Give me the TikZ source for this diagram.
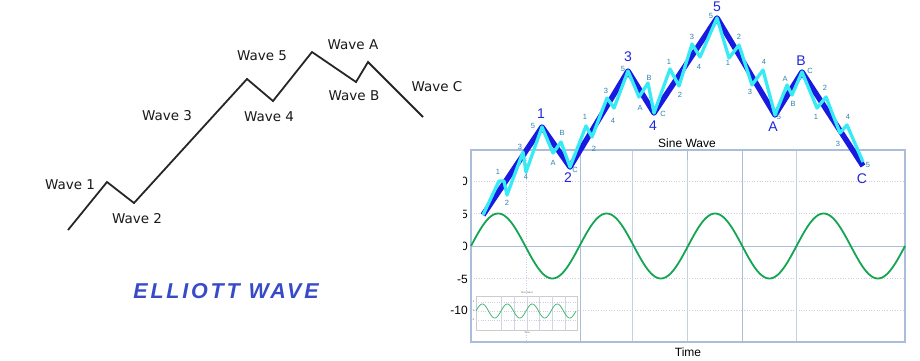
\documentclass[tikz,border=0pt]{standalone}
\usepackage{fontspec}
\setmainfont{DejaVu Sans}
\newfontfamily\arialfont{Liberation Sans}
\newfontfamily\titlefont[LetterSpace=13]{Liberation Sans}
\definecolor{mainblue}{RGB}{25,25,225}
\definecolor{subcyan}{RGB}{55,235,245}
\definecolor{bigblue}{RGB}{30,40,215}
\definecolor{smallteal}{RGB}{45,130,175}
\definecolor{titleblue}{RGB}{55,75,200}
\definecolor{sinegreen}{RGB}{20,165,80}
\definecolor{gridc}{RGB}{170,190,218}
\definecolor{gridd}{RGB}{215,200,225}
\begin{document}
\begin{tikzpicture}[x=1pt,y=-1pt,
  wavelbl/.style={font=\fontsize{13.5}{16}\selectfont, text=black!90, inner sep=0},
  leftline/.style={draw=black!85, line width=1.8pt},
  bigl/.style={font=\arialfont\fontsize{14}{16}\selectfont, text=bigblue, inner sep=0},
  smalll/.style={font=\arialfont\fontsize{7.5}{9}\selectfont, text=smallteal, inner sep=0},
  mainw/.style={draw=mainblue, line width=5.5pt, line join=round},
  subw/.style={draw=subcyan, line width=3.3pt, line join=round},
  axlbl/.style={font=\arialfont\fontsize{12}{14}\selectfont, inner sep=0, anchor=east},
  chartlbl/.style={font=\arialfont\fontsize{12}{14}\selectfont, inner sep=0},
  tinylbl/.style={font=\arialfont\fontsize{2.5}{3}\selectfont, text=black!60, inner sep=0},
  gridsolid/.style={draw=gridc, line width=0.8pt},
  griddot/.style={draw=gridd, line width=0.6pt, dotted},
  framest/.style={draw=gridc, line width=1.4pt}
]
\useasboundingbox (0,0) rectangle (920,360);

% ---------------- left diagram ----------------
\coordinate (p0) at (68,230);
\coordinate (p1) at (107,182);
\coordinate (p2) at (134,203);
\coordinate (p3) at (247,79);
\coordinate (p4) at (273,101);
\coordinate (p5) at (312,52);
\coordinate (pA) at (356,82);
\coordinate (pB) at (368,62);
\coordinate (pC) at (423,117);
\draw[leftline] (p0) -- (p1) -- (p2) -- (p3) -- (p4) -- (p5) -- (pA) -- (pB) -- (pC);

\node[wavelbl] (w1) at (70,185) {Wave 1};
\node[wavelbl] (w2) at (137,219) {Wave 2};
\node[wavelbl] (w3) at (167,116) {Wave 3};
\node[wavelbl] (w4) at (269,117) {Wave 4};
\node[wavelbl] (w5) at (262,56) {Wave 5};
\node[wavelbl] (wA) at (353,45) {Wave A};
\node[wavelbl] (wB) at (354,96) {Wave B};
\node[wavelbl] (wC) at (437,87) {Wave C};

\node[font=\titlefont\bfseries\itshape\fontsize{21.5}{24}\selectfont, text=titleblue, inner sep=0] (title) at (226,291) {ELLIOTT WAVE};

% ---------------- chart grid ----------------
\foreach \yy in {181,213,278,310} \draw[griddot] (471,\yy) -- (905,\yy);
\draw[griddot] (526,150) -- (526,342);
\foreach \xx in {632,687,796} \draw[gridsolid, draw=gridc!70] (\xx,150) -- (\xx,342);
\foreach \xx in {580,742} \draw[gridsolid] (\xx,150) -- (\xx,342);
\draw[gridsolid] (471,246) -- (905,246);
\draw[framest] (471,150) rectangle (905,342);
\draw[gridc] (687,150) -- (687,160);

\node[chartlbl] (sinetitle) at (687,143) {Sine Wave};
\node[chartlbl] (timelbl) at (688,352) {Time};

\begin{scope}
  \clip (463,165) rectangle (480,256);
  \node[axlbl] (y10) at (468,181) {10};
  \node[axlbl] (y5) at (468,214) {5};
  \node[axlbl] (y0) at (468,246) {0};
\end{scope}
\node[axlbl] (ym5) at (468,279) {-5};
\node[axlbl] (ym10) at (468,310) {-10};

% sine wave
\draw[sinegreen, line width=1.8pt] plot[domain=0:434, samples=240, smooth] ({471+\x},{246-32.5*sin(\x/108.5*360)});

% inset
\node[draw=black!20, fill=white, line width=0.4pt, minimum width=101pt, minimum height=34pt, inner sep=0] (inset) at (526.5,313) {};
\foreach \xx in {501,514,527,539,552,565} \draw[draw=gridc!60, line width=0.3pt] (\xx,296) -- (\xx,330);
\foreach \yy in {302,311,320} \draw[draw=gridd, line width=0.3pt, dotted] (476,\yy) -- (577,\yy);
\draw[sinegreen!80, line width=0.8pt] plot[domain=0:100, samples=120, smooth] ({476+\x},{311-7*sin(\x/25*360)});
\node[tinylbl] (itit) at (527,292.5) {Sine Wave};
\node[tinylbl] (itime) at (527,332.5) {Time};
\node[tinylbl, anchor=east] (i5) at (474.5,302) {5};
\node[tinylbl, anchor=east] (i0) at (474.5,311) {0};
\node[tinylbl, anchor=east] (im5) at (474.5,320) {-5};

% ---------------- Elliott wave overlay ----------------
\coordinate (m0) at (483,215);
\coordinate (m1) at (542,127);
\coordinate (m2) at (570,167);
\coordinate (m3) at (628,71);
\coordinate (m4) at (654,113);
\coordinate (m5) at (717,18);
\coordinate (mA) at (775,115);
\coordinate (mB) at (802,72);
\coordinate (mC) at (863,166);
\draw[mainw] (m0) -- (m1) -- (m2) -- (m3) -- (m4) -- (m5) -- (mA) -- (mB) -- (mC);

\coordinate (a1) at (499,181);
\coordinate (a1b) at (504,181);
\coordinate (a2) at (507,195);
\coordinate (a3) at (523,152);
\coordinate (a4) at (526,172);
\coordinate (b1) at (553,153);
\coordinate (b2) at (561,142);
\coordinate (d1) at (586,126);
\coordinate (d2) at (592,137);
\coordinate (d3) at (607,98);
\coordinate (d4) at (614,108);
\coordinate (e1) at (639,97);
\coordinate (e2) at (648,83);
\coordinate (f1) at (670,69);
\coordinate (f2) at (679,86);
\coordinate (f3) at (692,44);
\coordinate (f4) at (700,57);
\coordinate (g1) at (729,58);
\coordinate (g2) at (739,45);
\coordinate (g3) at (752,85);
\coordinate (g4) at (763,70);
\coordinate (h1) at (787,85);
\coordinate (h2) at (792,95);
\coordinate (i1) at (817,108);
\coordinate (i2) at (826,97);
\coordinate (i3) at (840,133);
\coordinate (i4) at (847,125);
\coordinate (iend) at (863,162);
\draw[subw] (m0) -- (a1) -- (a1b) -- (a2) -- (a3) -- (a4) -- (m1) -- (b1) -- (b2) -- (m2)
  -- (d1) -- (d2) -- (d3) -- (d4) -- (m3) -- (e1) -- (e2) -- (m4)
  -- (f1) -- (f2) -- (f3) -- (f4) -- (m5) -- (g1) -- (g2) -- (g3) -- (g4) -- (mA)
  -- (h1) -- (h2) -- (mB) -- (i1) -- (i2) -- (i3) -- (i4) -- (iend);

% big labels
\node[bigl] (L1) at (541,114) {1};
\node[bigl] (L2) at (568,178) {2};
\node[bigl] (L3) at (628,57) {3};
\node[bigl] (L4) at (653,126) {4};
\node[bigl] (L5) at (717,7) {5};
\node[bigl] (LA) at (773,127) {A};
\node[bigl] (LB) at (801,61) {B};
\node[bigl] (LC) at (862,179) {C};

% small labels
\node[smalll] (s11) at (498,172) {1};
\node[smalll] (s12) at (507,203) {2};
\node[smalll] (s13) at (520,147) {3};
\node[smalll] (s14) at (526,177) {4};
\node[smalll] (s15) at (533,126) {5};
\node[smalll] (s2A) at (553,163) {A};
\node[smalll] (s2B) at (562,133) {B};
\node[smalll] (s2C) at (575,170) {C};
\node[smalll] (s31) at (585,117) {1};
\node[smalll] (s32) at (594,149) {2};
\node[smalll] (s33) at (606,91) {3};
\node[smalll] (s34) at (613,121) {4};
\node[smalll] (s35) at (623,69) {5};
\node[smalll] (s4A) at (640,108) {A};
\node[smalll] (s4B) at (649,78) {B};
\node[smalll] (s4C) at (663,114) {C};
\node[smalll] (s51) at (669,62) {1};
\node[smalll] (s52) at (680,95) {2};
\node[smalll] (s53) at (692,37) {3};
\node[smalll] (s54) at (699,67) {4};
\node[smalll] (s55) at (711,16) {5};
\node[smalll] (sA1) at (728,63) {1};
\node[smalll] (sA2) at (739,37) {2};
\node[smalll] (sA3) at (750,92) {3};
\node[smalll] (sA4) at (764,62) {4};
\node[smalll] (sA5) at (779,117) {5};
\node[smalll] (sBA) at (785,79) {A};
\node[smalll] (sBB) at (793,104) {B};
\node[smalll] (sBC) at (810,71) {C};
\node[smalll] (sC1) at (816,117) {1};
\node[smalll] (sC2) at (825,88) {2};
\node[smalll] (sC3) at (838,144) {3};
\node[smalll] (sC4) at (848,117) {4};
\node[smalll] (sC5) at (868,165) {5};
\end{tikzpicture}
\end{document}
